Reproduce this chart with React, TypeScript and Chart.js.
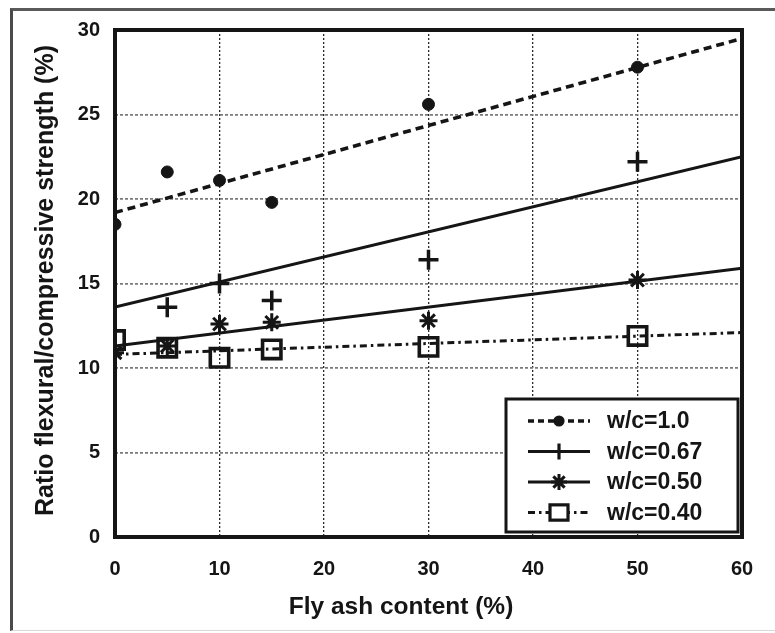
import React, { useEffect, useRef } from "react";
import { Chart, registerables } from "chart.js";

Chart.register(...registerables);

// ---- data ----
const flyAsh = [0, 5, 10, 15, 30, 50];
const wc100 = [18.5, 21.6, 21.1, 19.8, 25.6, 27.8];
const wc067 = [null, 13.6, 15.0, 14.0, 16.4, 22.2];
const wc050 = [10.9, 11.3, 12.6, 12.7, 12.8, 15.2];
const wc040 = [11.65, 11.2, 10.6, 11.1, 11.25, 11.9];

const trendX = [0, 60];
const trend100 = [19.2, 29.5];
const trend067 = [13.6, 22.5];
const trend050 = [11.3, 15.9];
const trend040 = [10.8, 12.1];

const seriesLabels = ["w/c=1.0", "w/c=0.67", "w/c=0.50", "w/c=0.40"];
const xTitle = "Fly ash content (%)";
const yTitle = "Ratio flexural/compressive strength (%)";

const INK = "#151515";

const toPts = (xs: number[], ys: (number | null)[]) =>
  xs.map((x, i) => ({ x, y: ys[i] })).filter((p) => p.y !== null);

const lineStyles = [
  { dash: [8, 5], width: 3.6 },
  { dash: [], width: 3 },
  { dash: [], width: 3 },
  { dash: [7, 4, 2.5, 4], width: 3 },
];

function drawMarker(ctx: CanvasRenderingContext2D, kind: number, x: number, y: number, s: number) {
  ctx.save();
  ctx.strokeStyle = INK;
  ctx.fillStyle = INK;
  ctx.setLineDash([]);
  if (kind === 0) {
    ctx.beginPath();
    ctx.arc(x, y, s * 0.7, 0, Math.PI * 2);
    ctx.fill();
  } else if (kind === 1) {
    ctx.lineWidth = 3.2;
    ctx.beginPath();
    ctx.moveTo(x, y - s);
    ctx.lineTo(x, y + s);
    ctx.stroke();
  } else if (kind === 2) {
    ctx.lineWidth = 3;
    ctx.beginPath();
    for (let k = 0; k < 4; k++) {
      const a = (k * Math.PI) / 4;
      ctx.moveTo(x - Math.cos(a) * s, y - Math.sin(a) * s);
      ctx.lineTo(x + Math.cos(a) * s, y + Math.sin(a) * s);
    }
    ctx.stroke();
  } else {
    ctx.lineWidth = 3.2;
    ctx.fillStyle = "#fff";
    ctx.fillRect(x - s, y - s * 0.85, 2 * s, 1.7 * s);
    ctx.strokeRect(x - s, y - s * 0.85, 2 * s, 1.7 * s);
  }
  ctx.restore();
}

const decorPlugin = {
  id: "decor",
  afterDraw(chart: any) {
    const { ctx, chartArea } = chart;
    const { left, right, top, bottom } = chartArea;
    ctx.save();
    // plot frame
    ctx.lineWidth = 4;
    ctx.strokeStyle = INK;
    ctx.setLineDash([]);
    ctx.strokeRect(left, top, right - left, bottom - top);

    // legend box
    const bw = 232;
    const bh = 133;
    const bx = right - 236;
    const by = bottom - 138;
    ctx.fillStyle = "#fff";
    ctx.fillRect(bx, by, bw, bh);
    ctx.lineWidth = 3;
    ctx.strokeRect(bx, by, bw, bh);
    for (let i = 0; i < seriesLabels.length; i++) {
      const yy = by + 22 + i * 30.5;
      const st = lineStyles[i];
      ctx.save();
      ctx.lineWidth = st.width;
      ctx.strokeStyle = INK;
      ctx.setLineDash(i === 0 ? [6, 4] : st.dash);
      ctx.beginPath();
      ctx.moveTo(bx + 22, yy);
      ctx.lineTo(bx + 84, yy);
      ctx.stroke();
      ctx.restore();
      drawMarker(ctx, i, bx + 53, yy, i === 3 ? 9 : 8);
      ctx.fillStyle = INK;
      ctx.font = "bold 23px 'Liberation Sans', Arial, sans-serif";
      ctx.textAlign = "left";
      ctx.textBaseline = "middle";
      ctx.fillText(seriesLabels[i], bx + 101, yy + 1);
    }

    // axis titles
    ctx.fillStyle = INK;
    ctx.font = "bold 24.5px 'Liberation Sans', Arial, sans-serif";
    ctx.textAlign = "center";
    ctx.textBaseline = "alphabetic";
    ctx.fillText(xTitle, 401, 614);
    ctx.font = "bold 25px 'Liberation Sans', Arial, sans-serif";
    ctx.translate(53, (top + bottom) / 2 - 3);
    ctx.rotate(-Math.PI / 2);
    ctx.fillText(yTitle, 0, 0);
    ctx.restore();
  },
};

export default function App() {
  const ref = useRef<HTMLCanvasElement | null>(null);

  useEffect(() => {
    if (!ref.current) return;
    const markerCommon = { showLine: false, borderColor: INK, pointBorderColor: INK };
    const trendCommon = { pointRadius: 0, borderColor: INK, fill: false, tension: 0 };
    const chart = new Chart(ref.current, {
      type: "scatter",
      data: {
        datasets: [
          {
            ...trendCommon,
            type: "line",
            label: seriesLabels[0] + " fit",
            data: toPts(trendX, trend100),
            borderWidth: lineStyles[0].width,
            borderDash: lineStyles[0].dash,
          },
          {
            ...trendCommon,
            type: "line",
            label: seriesLabels[1] + " fit",
            data: toPts(trendX, trend067),
            borderWidth: lineStyles[1].width,
          },
          {
            ...trendCommon,
            type: "line",
            label: seriesLabels[2] + " fit",
            data: toPts(trendX, trend050),
            borderWidth: lineStyles[2].width,
          },
          {
            ...trendCommon,
            type: "line",
            label: seriesLabels[3] + " fit",
            data: toPts(trendX, trend040),
            borderWidth: lineStyles[3].width,
            borderDash: lineStyles[3].dash,
          },
          {
            ...markerCommon,
            label: seriesLabels[0],
            data: toPts(flyAsh, wc100),
            pointStyle: "circle",
            pointRadius: 6,
            pointBackgroundColor: INK,
            pointBorderWidth: 1,
          },
          {
            ...markerCommon,
            label: seriesLabels[1],
            data: toPts(flyAsh, wc067),
            pointStyle: "cross",
            pointRadius: 10,
            pointBorderWidth: 3.5,
          },
          {
            ...markerCommon,
            label: seriesLabels[2],
            data: toPts(flyAsh, wc050),
            pointStyle: "star",
            pointRadius: 9,
            pointBorderWidth: 3,
          },
          {
            ...markerCommon,
            label: seriesLabels[3],
            data: toPts(flyAsh, wc040),
            pointStyle: "rect",
            pointRadius: 13,
            pointBorderWidth: 3.6,
            pointBackgroundColor: "rgba(0,0,0,0)",
          },
        ],
      },
      options: {
        animation: false,
        responsive: false,
        maintainAspectRatio: false,
        devicePixelRatio: 1,
        layout: { padding: { left: 0, top: 30, right: 33, bottom: 0 } },
        plugins: { legend: { display: false }, tooltip: { enabled: false } },
        scales: {
          x: {
            type: "linear",
            min: 0,
            max: 60,
            ticks: {
              stepSize: 10,
              color: INK,
              padding: 20,
              font: { family: "'Liberation Sans', Arial, sans-serif", size: 20, weight: "bold" },
            },
            grid: { color: "#2a2a2a", lineWidth: 1.3, drawTicks: false },
            border: { display: false, dash: [2, 2] },
            afterFit: (s: any) => {
              s.height = 96;
            },
          },
          y: {
            type: "linear",
            min: 0,
            max: 30,
            ticks: {
              stepSize: 5,
              color: INK,
              padding: 15,
              font: { family: "'Liberation Sans', Arial, sans-serif", size: 20, weight: "bold" },
            },
            grid: { color: "#7a7a7a", lineWidth: 1.8, drawTicks: false },
            border: { display: false, dash: [3, 2] },
            afterFit: (s: any) => {
              s.width = 115;
            },
          },
        },
      },
      plugins: [decorPlugin],
    } as any);
    return () => chart.destroy();
  }, []);

  return (
    <div style={{ position: "fixed", left: 0, top: 0, width: 775, height: 633, background: "#fff" }}>
      <div
        style={{
          position: "absolute",
          left: 10,
          top: 8,
          right: 0,
          bottom: 2,
          borderTop: "3px solid #5a5a5a",
          borderLeft: "3px solid #4a4a4a",
          borderBottom: "1px solid #d8d8d8",
        }}
      />
      <canvas
        ref={ref}
        width={775}
        height={633}
        style={{ position: "absolute", left: 0, top: 0, width: 775, height: 633 }}
      />
    </div>
  );
}
